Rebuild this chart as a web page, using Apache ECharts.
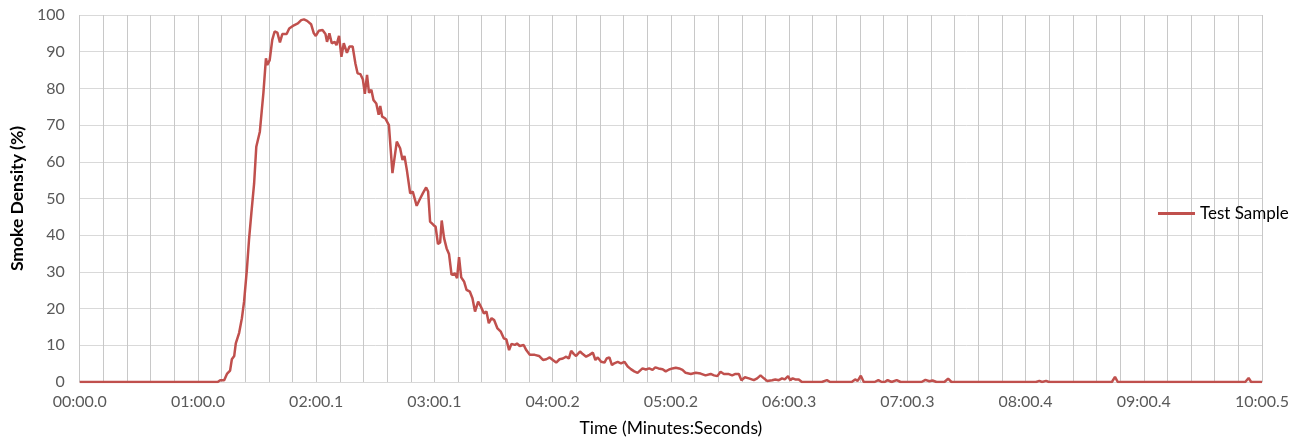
<!DOCTYPE html>
<html>
<head>
<meta charset="utf-8">
<title>Smoke Density</title>
<script src="https://cdn.jsdelivr.net/npm/echarts@6/dist/echarts.min.js"></script>
<style>
  html, body { margin: 0; padding: 0; background: #fff; }
  #chart { width: 1302px; height: 445px; }
</style>
</head>
<body>
<div id="chart"></div>
<script>
// sample number (~1 s per sample)
var times = [
  0, 70, 71.3, 73.3, 74.7, 76.3, 77.2, 78.4, 79.2, 80.9, 82.3, 83.4, 84.8, 85.9, 87.1, 88.5,
  89.6, 91.4, 93.2, 94.5, 95.2, 96.4, 97.7, 98.9, 100.3, 101.6, 102.8, 105, 106.3, 107.3, 108.7,
  110.7, 112.4, 113.8, 115.4, 117.4, 118.8, 119.8, 121.3, 123.2, 124.7, 125.5, 126.7, 127.9, 129.4,
  130.3, 131.6, 132.8, 134, 135.6, 136.9, 138.5, 139.9, 141, 142.4, 143.7, 144.7, 145.8, 146.8,
  148, 149.1, 150.5, 151.7, 152.5, 153.5, 155.1, 156.9, 158.7, 160.9, 162.6, 163.8, 164.8, 166,
  167.7, 169, 171, 172.4, 174.1, 175.8, 176.8, 177.8, 179.5, 180.6, 181.8, 182.9, 183.7, 184.9,
  186.2, 187.4, 188.7, 190.4, 191.5, 192.5, 193.6, 195.1, 196.3, 198, 199.3, 200.6, 202.2, 203.6,
  205.1, 206.4, 207.6, 209, 210.3, 212, 213.7, 215.2, 216.5, 217.9, 219.1, 220.8, 221.9, 223.3,
  225.3, 226.6, 228.4, 230.9, 233.1, 235.1, 236.8, 238.5, 240.1, 241.8, 243.5, 245.2, 246.9,
  248.2, 249.4, 250.8, 251.9, 253.9, 255.3, 257, 258.7, 260.4, 261.7, 262.9, 264.6, 266.3, 267.4,
  268.8, 270.1, 271.3, 273, 274.7, 276.4, 278.1, 279.7, 281.4, 283.1, 285.6, 287.3, 289, 290.7,
  292.1, 293.7, 295.8, 297.4, 299.1, 300.8, 302.5, 304.2, 305.9, 307.5, 310.1, 312.6, 315.1,
  317.6, 320.2, 321.9, 323.6, 325.2, 326.9, 329.1, 331.1, 332.8, 334.5, 335.8, 337.6, 339.6,
  342.1, 343.8, 345.5, 347.2, 348.8, 351.4, 353, 354.8, 356.4, 357.8, 359.5, 360.6, 361.8, 363.1,
  364.9, 366.5, 376.6, 379.2, 380.8, 391.8, 393.5, 394.8, 396.4, 397.9, 403.4, 405.3, 407, 408.5,
  410, 412, 414.6, 416.6, 427.2, 429.2, 431.2, 432.8, 434.8, 438.8, 440.7, 442.4, 485.3, 487,
  488.4, 490.4, 491.9, 523.8, 525.4, 526.8, 591.5, 593.2, 594.5, 600
];
var density = [
  0, 0, 0.5, 0.5, 2.2, 3.1, 6.2, 7.1, 10.5, 13.4, 17.4, 21.9, 30.5, 38.7, 46, 54.1,
  64.1, 68.2, 78.7, 88.2, 86.4, 87.7, 93.2, 95.5, 95.2, 92.5, 94.8, 94.8, 96.3, 95.9, 97.2,
  97.7, 98.6, 98.8, 98.4, 97.5, 95, 94.3, 95.7, 95.9, 94.8, 92.7, 95, 92.3, 92.7,
  91.8, 94.3, 88.6, 92.3, 89.7, 91.4, 91.4, 86.8, 84.1, 83.9, 82.4, 78.5, 83.7, 78.8,
  79.6, 76.8, 75.9, 72.8, 75.2, 72.3, 71.8, 70, 56.9, 65.5, 63.7, 60.5, 61.6, 57.8,
  51.4, 51.9, 48, 49.6, 51.4, 53, 51.9, 43.7, 42.8, 42.3, 37.6, 38, 44, 39.2,
  36.4, 34.9, 29.2, 29.6, 28.3, 34, 28.5, 27.3, 25.1, 24.6, 22.8, 19.2, 21.9, 20.5,
  18.7, 19.2, 16, 17.4, 16.9, 14.6, 13.7, 11.9, 11.6, 8.7, 10.4, 10.1, 10.5, 9.8,
  10.1, 8.7, 7.4, 7.4, 7.1, 6, 6.2, 6.7, 6, 5.3, 6.2, 6.4, 6.9,
  6.4, 8.5, 7.6, 7.1, 8.3, 7.6, 6.9, 7.4, 8, 6, 6.7, 5.5, 5.3, 6.4,
  6.7, 4.6, 5.1, 5.5, 5.1, 5.5, 4.2, 3.5, 2.9, 2.5, 3.7, 3.4, 3.7, 3.3,
  4, 3.7, 3.5, 2.9, 3.4, 3.7, 3.9, 3.7, 3.3, 2.5, 2.2, 2.5, 2.3,
  1.8, 2.2, 1.8, 1.6, 2.8, 2.2, 2.2, 1.8, 2.2, 2.2, 0.5, 1.3, 1,
  0.5, 1, 1.8, 1, 0.3, 0.5, 0.7, 0.5, 1, 0.7, 1.6, 0.5, 1, 0.7,
  0.7, 0, 0, 0.5, 0, 0, 0.7, 0.3, 1.7, 0, 0, 0.5, 0, 0,
  0.5, 0, 0.5, 0, 0, 0.6, 0.2, 0.4, 0, 0, 0.9, 0, 0, 0.3,
  0, 0.3, 0, 0, 1.4, 0, 0, 1.1, 0, 0
];
// x axis labels, one per 60 samples
var tickLabels = ['00:00.0', '01:00.0', '02:00.1', '03:00.1', '04:00.2', '05:00.2',
  '06:00.3', '07:00.3', '08:00.4', '09:00.4', '10:00.5'];
var seriesName = 'Test Sample';

var chart = echarts.init(document.getElementById('chart'));
var fontFamily = 'Lato, "Open Sans", sans-serif';
var red = '#c0504d';

chart.setOption({
  animation: false,
  textStyle: { fontFamily: fontFamily },
  grid: { left: 75, right: 40, top: 15, bottom: 63 },
  legend: {
    data: [seriesName],
    left: 1153,
    top: 200,
    icon: 'rect',
    itemWidth: 37,
    itemHeight: 3,
    itemGap: 4,
    textStyle: { fontSize: 17, color: '#000', fontFamily: fontFamily }
  },
  xAxis: {
    type: 'value',
    min: 0,
    max: 600,
    interval: 12,
    name: 'Time (Minutes:Seconds)',
    nameLocation: 'middle',
    nameGap: 37,
    nameTextStyle: { fontSize: 17.5, color: '#000', fontFamily: fontFamily },
    axisLine: { show: true, lineStyle: { color: '#d9d9d9', width: 1 } },
    axisTick: { show: false },
    splitLine: { show: true, lineStyle: { color: '#c8c8c8', width: 1 } },
    axisLabel: {
      margin: 12,
      fontSize: 16,
      color: '#595959',
      fontFamily: fontFamily,
      formatter: function (value) {
        return value % 60 === 0 ? tickLabels[value / 60] : '';
      }
    }
  },
  yAxis: {
    type: 'value',
    min: 0,
    max: 100,
    interval: 10,
    name: 'Smoke Density (%)',
    nameLocation: 'middle',
    nameGap: 47,
    nameTextStyle: { fontSize: 17.5, fontWeight: 'bold', color: '#000', fontFamily: fontFamily },
    axisLine: { show: false },
    axisTick: { show: false },
    splitLine: { lineStyle: { color: '#d9d9d9', width: 1 } },
    axisLabel: { margin: 15, fontSize: 16, color: '#595959', fontFamily: fontFamily }
  },
  series: [{
    name: seriesName,
    type: 'line',
    symbol: 'none',
    data: times.map(function (t, i) { return [t, density[i]]; }),
    lineStyle: { color: red, width: 2.5 },
    itemStyle: { color: red }
  }]
});
</script>
</body>
</html>
